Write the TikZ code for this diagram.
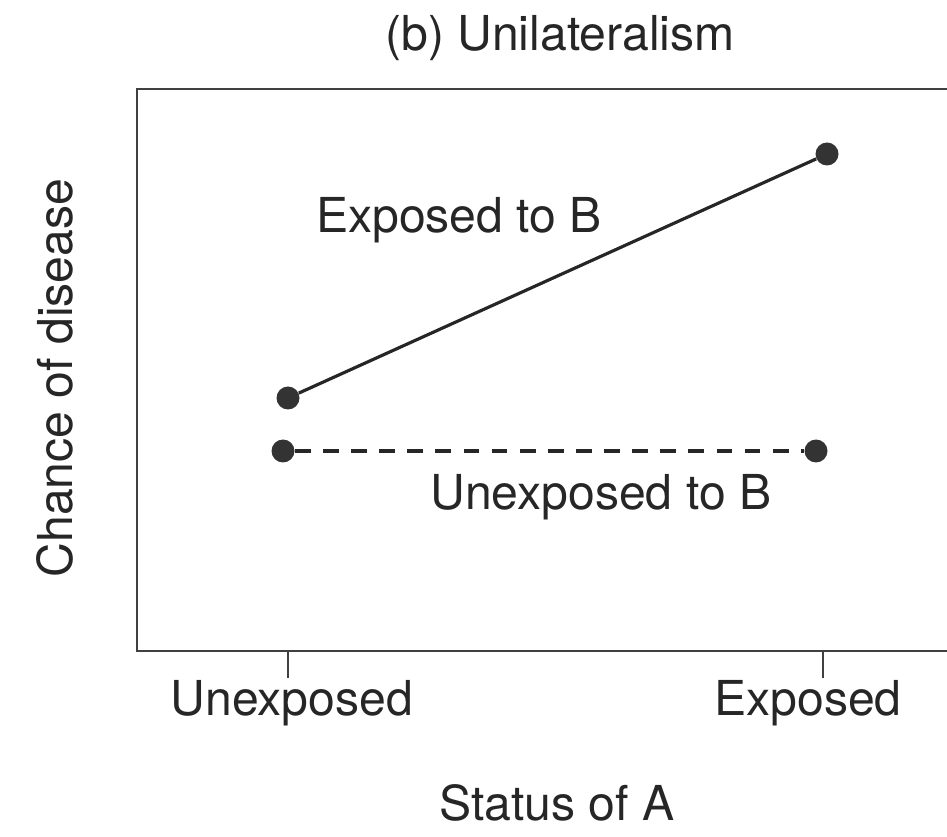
\documentclass[tikz,border=0pt]{standalone}
\usepackage{fontspec}
\setmainfont{TeX Gyre Heros}
\usepackage{tikz}
\usetikzlibrary{positioning}

\begin{document}
\begin{tikzpicture}[x=0.02cm, y=-0.02cm,
    datapt/.style={circle, fill=black!80, inner sep=0pt, minimum size=0.46cm},
    lbl/.style={font=\fontsize{27.4}{31}\selectfont, text=black!85, inner sep=0pt}]
    \useasboundingbox (0, 0) rectangle (947, 837);
    % frame (right side cut off)
    \draw[line width=1.6pt, black!75] (947, 89) -- (137, 89) -- (137, 651) -- (947, 651);
    \coordinate (tickA) at (288, 651);
    \coordinate (tickB) at (823, 651);
    \draw[line width=1.4pt, black!75] (tickA) -- ++(0, 27);
    \draw[line width=1.4pt, black!75] (tickB) -- ++(0, 27);
    % points
    \node[datapt] (expL) at (288, 398) {};
    \node[datapt] (expR) at (827, 154) {};
    \node[datapt] (unexL) at (283, 451) {};
    \node[datapt] (unexR) at (816, 451) {};
    \draw[line width=1.8pt, black!85] (expL) -- (expR);
    \draw[line width=1.8pt, black!85, dash pattern=on 9pt off 7pt] (unexL) -- (unexR);
    % labels
    \node[lbl] (title) at (560, 38) {(b) Unilateralism};
    \node[lbl] (expB) at (459, 220) {Exposed to B};
    \node[lbl] (unexB) at (601, 497) {Unexposed to B};
    \node[lbl] (xUnex) at (292, 703) {Unexposed};
    \node[lbl] (xExp) at (808, 703) {Exposed};
    \node[lbl] (xlab) at (557, 803) {Status of A};
    \node[lbl, rotate=90] (ylab) at (55, 378) {Chance of disease};
\end{tikzpicture}
\end{document}
